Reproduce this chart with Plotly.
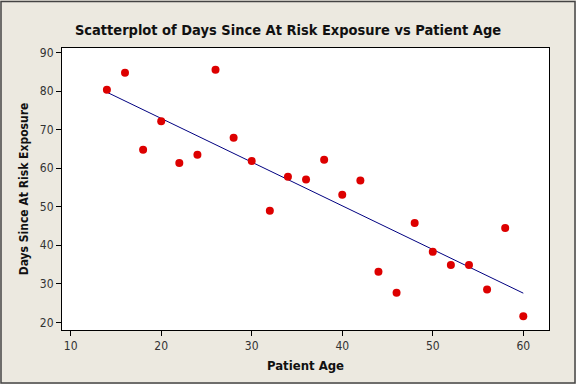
import numpy as np
import plotly.graph_objects as go

patient_age = [14, 16, 18, 20, 22, 24, 26, 28, 30, 32, 34, 36,
               38, 40, 42, 44, 46, 48, 50, 52, 54, 56, 58, 60]
days_since_exposure = [80.4, 84.8, 64.8, 72.2, 61.4, 63.5, 85.6, 67.9, 61.9, 49.0, 57.8, 57.1,
                       62.2, 53.1, 56.8, 33.1, 27.7, 45.8, 38.3, 34.9, 34.9, 28.5, 44.5, 21.6]
x_ticks = [10, 20, 30, 40, 50, 60]
y_ticks = [20, 30, 40, 50, 60, 70, 80, 90]

# least-squares fitted line through the data
slope, intercept = np.polyfit(patient_age, days_since_exposure, 1)
fit_x = [min(patient_age), max(patient_age)]
fit_y = [slope * v + intercept for v in fit_x]

FONT = "DejaVu Sans Condensed"
BG = "#ECE9E0"

fig = go.Figure()
fig.add_trace(go.Scatter(x=fit_x, y=fit_y, mode="lines",
                         line=dict(color="#000080", width=1), hoverinfo="skip"))
fig.add_trace(go.Scatter(x=patient_age, y=days_since_exposure, mode="markers",
                         marker=dict(color="#DD0000", size=8, line=dict(width=0))))

fig.update_layout(
    width=576, height=384,
    margin=dict(l=62, r=27, t=47.5, b=54),
    paper_bgcolor=BG, plot_bgcolor="white",
    showlegend=False,
    font=dict(family=FONT, color="#222222", size=12),
    title=dict(text="<b>Scatterplot of Days Since At Risk Exposure vs Patient Age</b>",
               x=0.5, xanchor="center", y=1 - 30 / 384, yanchor="middle",
               font=dict(family=FONT, size=14.5, color="#111111")),
    xaxis=dict(range=[9.04, 62.84], tickvals=x_ticks, showgrid=False, zeroline=False,
               showline=True, linecolor="black", linewidth=1, mirror=True,
               ticks="outside", ticklen=5, tickcolor="black", tickwidth=1,
               tickfont=dict(size=12, color="#333333"),
               title=dict(text="<b>Patient Age</b>", standoff=8,
                          font=dict(size=13, color="#111111"))),
    yaxis=dict(range=[18.0, 91.24], tickvals=y_ticks, showgrid=False, zeroline=False,
               showline=True, linecolor="black", linewidth=1, mirror=True,
               ticks="outside", ticklen=5, tickcolor="black", tickwidth=1,
               tickfont=dict(size=12, color="#333333"),
               title=dict(text="<b>Days Since At Risk Exposure</b>", standoff=8,
                          font=dict(size=12, color="#111111"))),
    shapes=[dict(type="rect", xref="paper", yref="paper",
                 x0=(1 - 62) / 487, x1=(575 - 62) / 487,
                 y0=(330 - 383) / 282.5, y1=(330 - 1) / 282.5,
                 line=dict(color="#444444", width=1.5), layer="above")],
)

fig.write_html("out.html",
               config={"displayModeBar": False},
               post_script="document.body.style.margin='0';document.body.style.overflow='hidden';")
